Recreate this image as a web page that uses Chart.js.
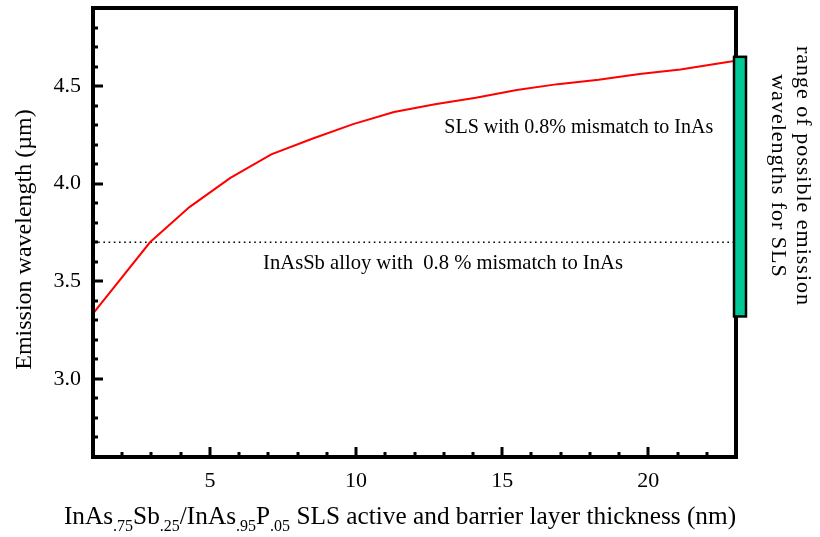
<!DOCTYPE html>
<html>
<head>
<meta charset="utf-8">
<script src="https://cdn.jsdelivr.net/npm/chart.js@4/dist/chart.umd.min.js"></script>
<style>
  html, body { margin: 0; padding: 0; background: #fff; }
  #wrap { width: 820px; height: 537px; }
</style>
</head>
<body>
<div id="wrap"><canvas id="c" width="820" height="537"></canvas></div>
<script>
// SLS emission wavelength vs. layer thickness
const thickness     = [1.0, 2.95, 4.3, 5.7, 7.1, 8.5, 9.9, 11.3, 12.7, 14.1, 15.5, 16.9, 18.3, 19.7, 21.1, 22.5, 23.0];
const slsWavelength = [3.335, 3.70, 3.88, 4.03, 4.15, 4.23, 4.305, 4.367, 4.407, 4.44, 4.48, 4.51, 4.532, 4.562, 4.585, 4.618, 4.63];

// InAsSb alloy reference level
const alloyThickness  = [1, 23];
const alloyWavelength = [3.7, 3.7];

// span of emission wavelengths reachable with the SLS
const slsRange = [3.32, 4.65];

// axis ticks
const xTickLabels = [5, 10, 15, 20];
const yTickLabels = [3.0, 3.5, 4.0, 4.5];
const xLimits = [1, 23];
const yLimits = [2.6, 4.9];

const FONT = "'Liberation Serif', 'Times New Roman', serif";

const decorations = {
  id: 'decorations',
  afterDatasetsDraw(chart) {
    const { ctx, chartArea: a, scales: { x, y } } = chart;
    ctx.save();

    // inward tick marks: minor every 1 nm / 0.1 µm, major at labelled values
    ctx.strokeStyle = '#000';
    ctx.lineWidth = 3;
    ctx.lineCap = 'butt';
    ctx.beginPath();
    for (let v = Math.ceil(xLimits[0]) + 1; v < xLimits[1]; v++) {
      const px = Math.round(x.getPixelForValue(v));
      const len = xTickLabels.includes(v) ? 10 : 5;
      ctx.moveTo(px, a.bottom);
      ctx.lineTo(px, a.bottom - len);
    }
    for (let i = 27; i <= 48; i++) {
      const v = i / 10;
      const py = Math.round(y.getPixelForValue(v));
      const len = (i % 5 === 0) ? 10 : 5;
      ctx.moveTo(a.left, py);
      ctx.lineTo(a.left + len, py);
    }
    ctx.stroke();

    // frame
    ctx.lineWidth = 4;
    ctx.lineJoin = 'miter';
    ctx.strokeRect(a.left, a.top, a.right - a.left, a.bottom - a.top);

    // range bar beside the right axis
    const yTop = y.getPixelForValue(slsRange[1]);
    const yBot = y.getPixelForValue(slsRange[0]);
    ctx.fillStyle = '#00c896';
    ctx.fillRect(a.right - 2, yTop, 12, yBot - yTop);
    ctx.lineWidth = 2.5;
    ctx.strokeRect(a.right - 2, yTop, 12, yBot - yTop);

    // annotations
    ctx.fillStyle = '#000';
    ctx.font = '20px ' + FONT;
    ctx.textAlign = 'left';
    ctx.textBaseline = 'alphabetic';
    ctx.fillText('SLS with 0.8% mismatch to InAs', x.getPixelForValue(13.02), y.getPixelForValue(4.26));
    ctx.font = '20.6px ' + FONT;
    ctx.fillText('InAsSb alloy with  0.8 % mismatch to InAs', x.getPixelForValue(6.82), y.getPixelForValue(3.561));

    // y-axis title
    ctx.save();
    ctx.translate(31, (a.top + a.bottom) / 2 + 7);
    ctx.rotate(-Math.PI / 2);
    ctx.textAlign = 'center';
    ctx.textBaseline = 'alphabetic';
    ctx.font = '24px ' + FONT;
    ctx.fillText('Emission wavelength (\u00b5m)', 0, 0);
    ctx.restore();

    // right-hand label
    ctx.save();
    ctx.translate(797, 176);
    ctx.rotate(Math.PI / 2);
    ctx.textAlign = 'center';
    ctx.font = '22px ' + FONT;
    ctx.letterSpacing = '1px';
    ctx.fillText('range of possible emission', 0, 0);
    ctx.fillText('wavelengths for SLS', 0, 25);
    ctx.restore();

    // x-axis title with subscripts
    const parts = [
      ['InAs', 0], ['.75', 1], ['Sb', 0], ['.25', 1], ['/InAs', 0], ['.95', 1],
      ['P', 0], ['.05', 1], [' SLS active and barrier layer thickness (nm)', 0]
    ];
    const mainFont = '25.3px ' + FONT;
    const subFont = '16px ' + FONT;
    let total = 0;
    for (const [t, s] of parts) {
      ctx.font = s ? subFont : mainFont;
      total += ctx.measureText(t).width;
    }
    let cx = 400 - total / 2;
    const base = 524;
    for (const [t, s] of parts) {
      ctx.font = s ? subFont : mainFont;
      ctx.fillText(t, cx, s ? base + 7 : base);
      cx += ctx.measureText(t).width;
    }

    ctx.restore();
  }
};

new Chart(document.getElementById('c'), {
  type: 'line',
  data: {
    datasets: [
      {
        label: 'SLS',
        data: thickness.map((t, i) => ({ x: t, y: slsWavelength[i] })),
        borderColor: '#ff0000',
        borderWidth: 2,
        pointRadius: 0,
        tension: 0,
        fill: false
      },
      {
        label: 'InAsSb alloy',
        data: alloyThickness.map((t, i) => ({ x: t, y: alloyWavelength[i] })),
        borderColor: '#000',
        borderWidth: 1.6,
        borderDash: [1.6, 3.6],
        pointRadius: 0,
        fill: false
      }
    ]
  },
  options: {
    responsive: false,
    animation: false,
    devicePixelRatio: 1,
    layout: { padding: { top: 8, right: 84, left: 0, bottom: 0 } },
    plugins: { legend: { display: false }, tooltip: { enabled: false }, title: { display: false } },
    scales: {
      x: {
        type: 'linear',
        min: xLimits[0],
        max: xLimits[1],
        grid: { display: false, drawTicks: false },
        border: { display: false },
        afterBuildTicks: s => { s.ticks = xTickLabels.map(v => ({ value: v })); },
        afterFit: s => { s.height = 80; s.paddingLeft = 0; s.paddingRight = 0; },
        ticks: {
          color: '#000',
          padding: 11,
          maxRotation: 0,
          autoSkip: false,
          font: { family: FONT, size: 22 },
          callback: v => String(v)
        }
      },
      y: {
        type: 'linear',
        min: yLimits[0],
        max: yLimits[1],
        grid: { display: false, drawTicks: false },
        border: { display: false },
        afterBuildTicks: s => { s.ticks = yTickLabels.map(v => ({ value: v })); },
        afterFit: s => { s.width = 93; s.paddingTop = 0; s.paddingBottom = 0; },
        ticks: {
          color: '#000',
          padding: 12,
          autoSkip: false,
          font: { family: FONT, size: 22 },
          callback: v => Number(v).toFixed(1)
        }
      }
    }
  },
  plugins: [decorations]
});
</script>
</body>
</html>
